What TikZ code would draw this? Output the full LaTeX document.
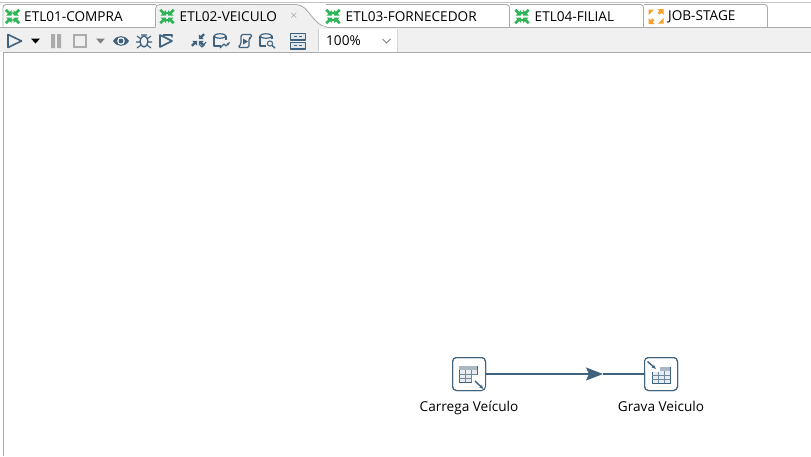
\documentclass[tikz,border=0pt]{standalone}
\usepackage{fontspec}
\setmainfont{Open Sans}
\usepackage{xcolor}
\usetikzlibrary{positioning,arrows.meta,calc}
\definecolor{steel}{HTML}{3F627F}
\definecolor{tabgreen}{HTML}{2FB457}
\definecolor{joborange}{HTML}{F7A02D}
\definecolor{barfill}{HTML}{F0F0F0}
\definecolor{edge}{HTML}{ABABAB}

\begin{document}
\begin{tikzpicture}[
  x=1pt, y=-1pt,
  tabtext/.style={font=\fontsize{13.6}{15}\selectfont, text=black, anchor=west, inner sep=0pt},
  tabedge/.style={draw=edge, line width=0.9pt, rounded corners=3pt},
  tool/.style={draw=steel, line width=1.6pt, line join=round},
  toolfill/.style={fill=steel, draw=none},
  stepicon/.style={draw=steel, line width=1pt, rounded corners=4pt, fill=white, minimum size=33pt, inner sep=0pt},
  steplabel/.style={font=\fontsize{13.6}{15}\selectfont, inner sep=0pt},
  hop/.style={draw=steel, line width=1.1pt},
  trans/.pic={
    \foreach \sx/\sy in {1/1,-1/1,1/-1,-1/-1}{
      \fill[tabgreen, shift={(7.5*\sx,7.5*\sy)}] (0,0) ++(-5*\sx,-5*\sy) -- ++(-2.4*\sx,2.4*\sy) -- ++(0,-2.4*\sy) -- ++(-1,0) -- cycle;
      \fill[tabgreen] (1*\sx,1*\sy) -- (6.5*\sx,1*\sy) -- (4.7*\sx,2.8*\sy) -- (7.6*\sx,5.7*\sy) -- (5.7*\sx,7.6*\sy) -- (2.8*\sx,4.7*\sy) -- (1*\sx,6.5*\sy) -- cycle;
    }
  },
  jobicon/.pic={
    \foreach \sx/\sy in {1/1,-1/-1}{
      \fill[joborange] (1.5*\sx,-7.5*\sy) -- (7.5*\sx,-7.5*\sy) -- (7.5*\sx,-1.5*\sy) -- (5.3*\sx,-3.7*\sy) -- (3.5*\sx,-1.9*\sy) -- (1.6*\sx,-3.8*\sy) -- (3.4*\sx,-5.6*\sy) -- cycle;
      \fill[joborange] (-7.5*\sx,-1.5*\sy) -- (-7.5*\sx,-7*\sy) -- (-2*\sx,-7*\sy) -- (-3.8*\sx,-5.2*\sy) -- (-5.7*\sx,-3.3*\sy) -- cycle;
    }
  },
  gridicon/.pic={
    \draw[steel, line width=0.9pt, fill=steel!12] (-9,-7) rectangle (9,9);
    \fill[steel!45] (-9,-7) rectangle (9,-3);
    \foreach \gx in {-3,3} \draw[steel!75, line width=0.8pt] (\gx,-3) -- (\gx,9);
    \foreach \gy in {1,5} \draw[steel!75, line width=0.8pt] (-9,\gy) -- (9,\gy);
  }
]
% window
\path[use as bounding box] (0,0) rectangle (811,456);
\fill[white] (0,0) rectangle (811,456);
\fill[barfill] (0,28) rectangle (811,52);
\draw[edge!70, line width=0.8pt] (0,2) -- (811,2);
\draw[edge, line width=0.9pt] (0,27.5) -- (155,27.5);
\draw[edge, line width=0.9pt] (325,27.5) -- (811,27.5);
\draw[edge, line width=0.9pt] (3,52) -- (811,52);
\draw[edge, line width=0.9pt] (3,52) -- (3,456);

% tabs
\draw[tabedge] (3,27) -- (3,4.5) -- (156,4.5);
\fill[barfill] (156,28) -- (156,8) to[out=-90,in=180,looseness=0] (160,4.5) -- (296,4.5) .. controls (310,5) and (312,27) .. (330,27.5) -- (330,28) -- cycle;
\draw[edge, line width=0.9pt] (155.5,27.5) -- (155.5,9) .. controls (155.5,6) and (157,4.5) .. (160,4.5) -- (296,4.5) .. controls (310,5) and (312,27) .. (330,27.5);
\draw[tabedge] (509.5,27) -- (509.5,4.5) -- (326,4.5);
\fill[white] (156.5,8) -- (296,5.5) .. controls (309,6) and (311,26) .. (325,27) -- (156.5,27) -- cycle;
\fill[barfill] (156.5,8) -- (296,5.5) .. controls (309,6) and (311,26) .. (325,27) -- (156.5,27) -- cycle;
\draw[tabedge] (643.5,27) -- (643.5,4.5) -- (510,4.5);
\draw[tabedge] (767.5,27) -- (767.5,4.5) -- (644,4.5);

\pic at (12.5,16.5) {trans};
\node[tabtext] (tabcompra) at (24,16.5) {ETL01-COMPRA};
\pic at (167,16.5) {trans};
\node[tabtext] (tabveiculo) at (179.5,16.5) {ETL02-VEICULO};
\node[font=\fontsize{11}{12}\selectfont, text=gray, inner sep=0pt] (tabclose) at (294,16) {$\times$};
\pic at (333,16.5) {trans};
\node[tabtext] (tabforn) at (345.5,16.5) {ETL03-FORNECEDOR};
\pic at (522,16.5) {trans};
\node[tabtext] (tabfilial) at (534.5,16.5) {ETL04-FILIAL};
\pic at (656,16.5) {jobicon};
\node[tabtext] (tabjob) at (668,16.5) {JOB-STAGE};

% toolbar
\draw[tool] (8,34.5) -- (21.5,41) -- (8,47.5) -- cycle;
\fill[black] (31,38.5) -- (40,38.5) -- (35.5,43.5) -- cycle;
\fill[edge] (51,34) rectangle (55,48) (57,34) rectangle (61,48);
\draw[edge, line width=1.5pt] (74,35) rectangle (86,47);
\fill[gray] (96,38.5) -- (105,38.5) -- (100.5,43.5) -- cycle;
\fill[steel] (113,41) .. controls (117,34.5) and (125,34.5) .. (129,41) .. controls (125,47.5) and (117,47.5) .. (113,41) -- cycle;
\fill[white] (121,41) circle (3.8);
\fill[steel] (121,41) circle (2.4);
% bug
\draw[tool, line width=1.3pt] (144,41.5) ellipse (4 and 5.5);
\draw[tool, line width=1.1pt] (137,36) -- (141,39) (151,36) -- (147,39) (136,42) -- (140,42) (152,42) -- (148,42) (137,48) -- (141,45) (151,48) -- (147,45) (141,35) -- (147,35);
% run preview
\draw[tool] (160,35) -- (172,41) -- (160,47) -- cycle;
\draw[tool, line width=1.1pt, -{Stealth[length=3pt]}] (163,35) -- (172,35) -- (172,38);
% check
\foreach \sx/\sy in {1/1,-1/1,1/-1}{
  \fill[steel] ($(198,40)+(0.8*\sx,0.8*\sy)$) -- ++(5*\sx,0) -- ++(-1.6*\sx,1.6*\sy) -- ++(2.6*\sx,2.6*\sy) -- ++(-1.6*\sx,1.6*\sy) -- ++(-2.6*\sx,-2.6*\sy) -- ++(-1.6*\sx,1.6*\sy) -- cycle;
}
\draw[tool, line width=1.1pt] (200,45) -- (202,47) -- (206,42);
% sql
\draw[tool, line width=1.2pt] (214,36) -- (214,46) -- (221,46);
\draw[tool, line width=1.2pt] (226,36) -- (226,40);
\draw[tool, line width=1.2pt] (220,36) ellipse (6 and 2.2);
\draw[tool, line width=1.2pt, -{Stealth[length=3.5pt]}] (220,48) -- (224,44) -- (226,46) -- (230,42);
% script
\draw[tool, line width=1.2pt, rounded corners=1.5pt] (241,47.5) -- (238,47.5) -- (241,44) -- (241,34.5) -- (252,34.5) -- (251,38) -- (249,38) -- (249,47.5) -- cycle;
\fill[steel] (243,38.5) -- (248,41.5) -- (243,44.5) -- cycle;
% explore
\draw[tool, line width=1.2pt] (260,36) -- (260,46) -- (266,46);
\draw[tool, line width=1.2pt] (272,36) -- (272,39);
\draw[tool, line width=1.2pt] (266,36) ellipse (6 and 2.2);
\draw[tool, line width=1pt] (270,43.5) circle (2.6);
\draw[tool, line width=1.4pt] (272,45.5) -- (275,48);
% two rows
\draw[tool, line width=1.2pt, fill=steel!15] (290.5,33.5) rectangle (305.5,40);
\draw[tool, line width=1.2pt, fill=steel!15] (290.5,42.5) rectangle (305.5,49);
\draw[steel, line width=1pt] (294,36.7) -- (297,36.7) (299,36.7) -- (302,36.7) (294,45.7) -- (297,45.7) (299,45.7) -- (302,45.7);
\draw[edge!60, line width=0.8pt] (318,29) -- (318,51);
% zoom box
\fill[white] (319,28.5) rectangle (397.5,51.5);
\draw[edge!50, line width=0.6pt] (397.5,28.5) -- (397.5,51.5);
\node[tabtext] (zoomval) at (326,41) {100\%};
\draw[gray, line width=0.8pt] (382.5,39) -- (386.5,43) -- (390.5,39);

% steps
\node[stepicon] (carrega) at (469,374) {};
\node[stepicon] (grava) at (661,374) {};
\node[steplabel, below=10pt of carrega] (carregalbl) {Carrega Veículo};
\node[steplabel, below=10pt of grava] (gravalbl) {Grava Veiculo};
\coordinate (hoptip) at (603,374);
\draw[hop, -{Stealth[length=17pt, width=13pt, inset=3pt]}] (carrega) -- (hoptip);
\draw[hop] (hoptip) -- (grava);

\pic at (468,373) {gridicon};
\fill[white] (472,375) rectangle (487,391);
\node[stepicon, fill=none] (carregaedge) at (469,374) {};
\draw[steel, line width=1.4pt, -{Stealth[length=4.5pt]}] (475,381) -- (483.5,389);
\pic at (661,374) {gridicon};
\fill[white] (645,359) rectangle (660,372);
\node[stepicon, fill=none] (gravaedge) at (661,374) {};
\draw[steel, line width=1.4pt, -{Stealth[length=4.5pt]}] (647.5,361.5) -- (656,369);
\end{tikzpicture}
\end{document}
